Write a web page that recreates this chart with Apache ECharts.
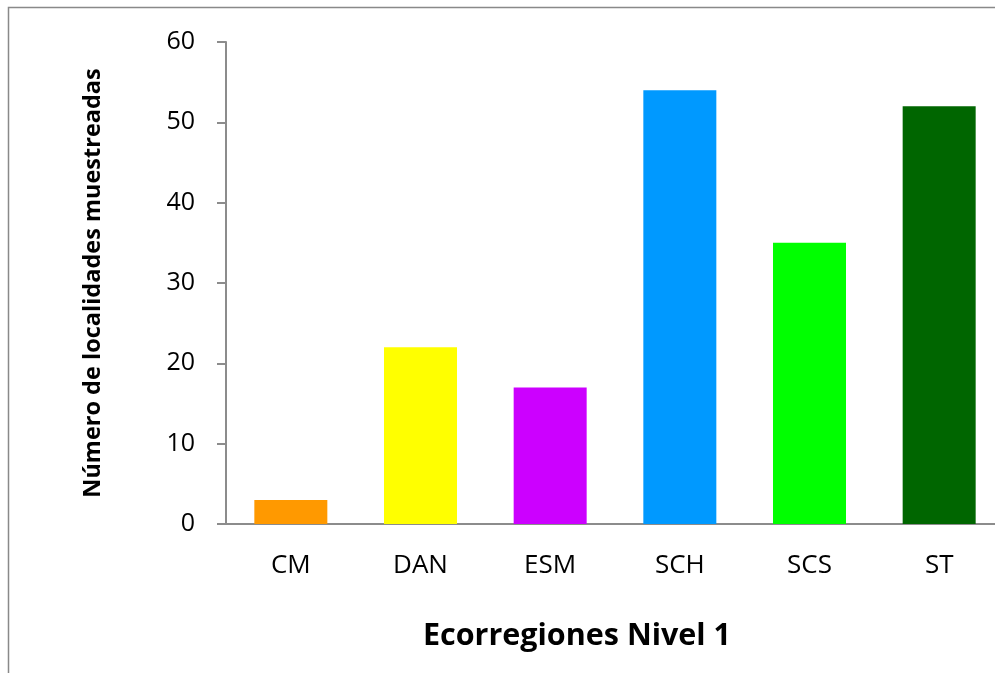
<!DOCTYPE html>
<html>
<head>
<meta charset="utf-8">
<script src="https://cdn.jsdelivr.net/npm/echarts@6/dist/echarts.min.js"></script>
<style>
  html, body { margin: 0; padding: 0; background: #ffffff; }
  #chart { width: 995px; height: 673px; }
</style>
</head>
<body>
<div id="chart"></div>
<script>
// Ecoregiones de nivel 1 y número de localidades muestreadas
const categories = ['CM', 'DAN', 'ESM', 'SCH', 'SCS', 'ST'];
const localidades = [3, 22, 17, 54, 35, 52];
const barColors = ['#FF9900', '#FFFF00', '#CC00FF', '#0099FF', '#00FF00', '#006600'];
const yTicks = [0, 10, 20, 30, 40, 50, 60];
const xTitle = 'Ecorregiones Nivel 1';
const yTitle = 'Número de localidades muestreadas';

const FONT = '"Open Sans", "Noto Sans", sans-serif';
const chart = echarts.init(document.getElementById('chart'), null, { renderer: 'canvas' });

chart.setOption({
  animation: false,
  backgroundColor: '#ffffff',
  graphic: [
    {
      type: 'rect',
      shape: { x: 8.5, y: 7.5, width: 1000, height: 700 },
      style: { fill: 'none', stroke: '#898989', lineWidth: 1.5 },
      silent: true,
      z: -1
    },
    {
      // axis title is centred on the chart area, not on the plot
      type: 'text',
      x: 577,
      y: 636,
      style: {
        text: xTitle,
        fontFamily: FONT,
        fontWeight: 'bold',
        fontSize: 30.5,
        fill: '#000',
        align: 'center',
        verticalAlign: 'middle'
      },
      silent: true
    }
  ],
  // plot area runs slightly past the right edge of the canvas
  grid: { left: 226, width: 778, top: 42, bottom: 149, containLabel: false, outerBoundsMode: 'none' },
  xAxis: {
    type: 'category',
    data: categories,
    axisLine: { lineStyle: { color: '#8c8c8c', width: 2 } },
    axisTick: { show: false },
    axisLabel: { fontFamily: FONT, fontSize: 26, color: '#000', margin: 29 },
    splitLine: { show: false }
  },
  yAxis: {
    type: 'value',
    min: yTicks[0],
    max: yTicks[yTicks.length - 1],
    interval: 10,
    name: yTitle,
    nameLocation: 'middle',
    nameGap: 121,
    nameTextStyle: { fontFamily: FONT, fontWeight: 'bold', fontSize: 23.5, color: '#000' },
    axisLine: { show: true, lineStyle: { color: '#8c8c8c', width: 2 } },
    axisTick: { show: true, length: 9, lineStyle: { color: '#8c8c8c', width: 2 } },
    axisLabel: { fontFamily: FONT, fontSize: 25, color: '#000', margin: 31 },
    splitLine: { show: false }
  },
  series: [{
    type: 'bar',
    data: localidades.map((v, i) => ({ value: v, itemStyle: { color: barColors[i] } })),
    barWidth: '56.3%'
  }]
});
</script>
</body>
</html>
